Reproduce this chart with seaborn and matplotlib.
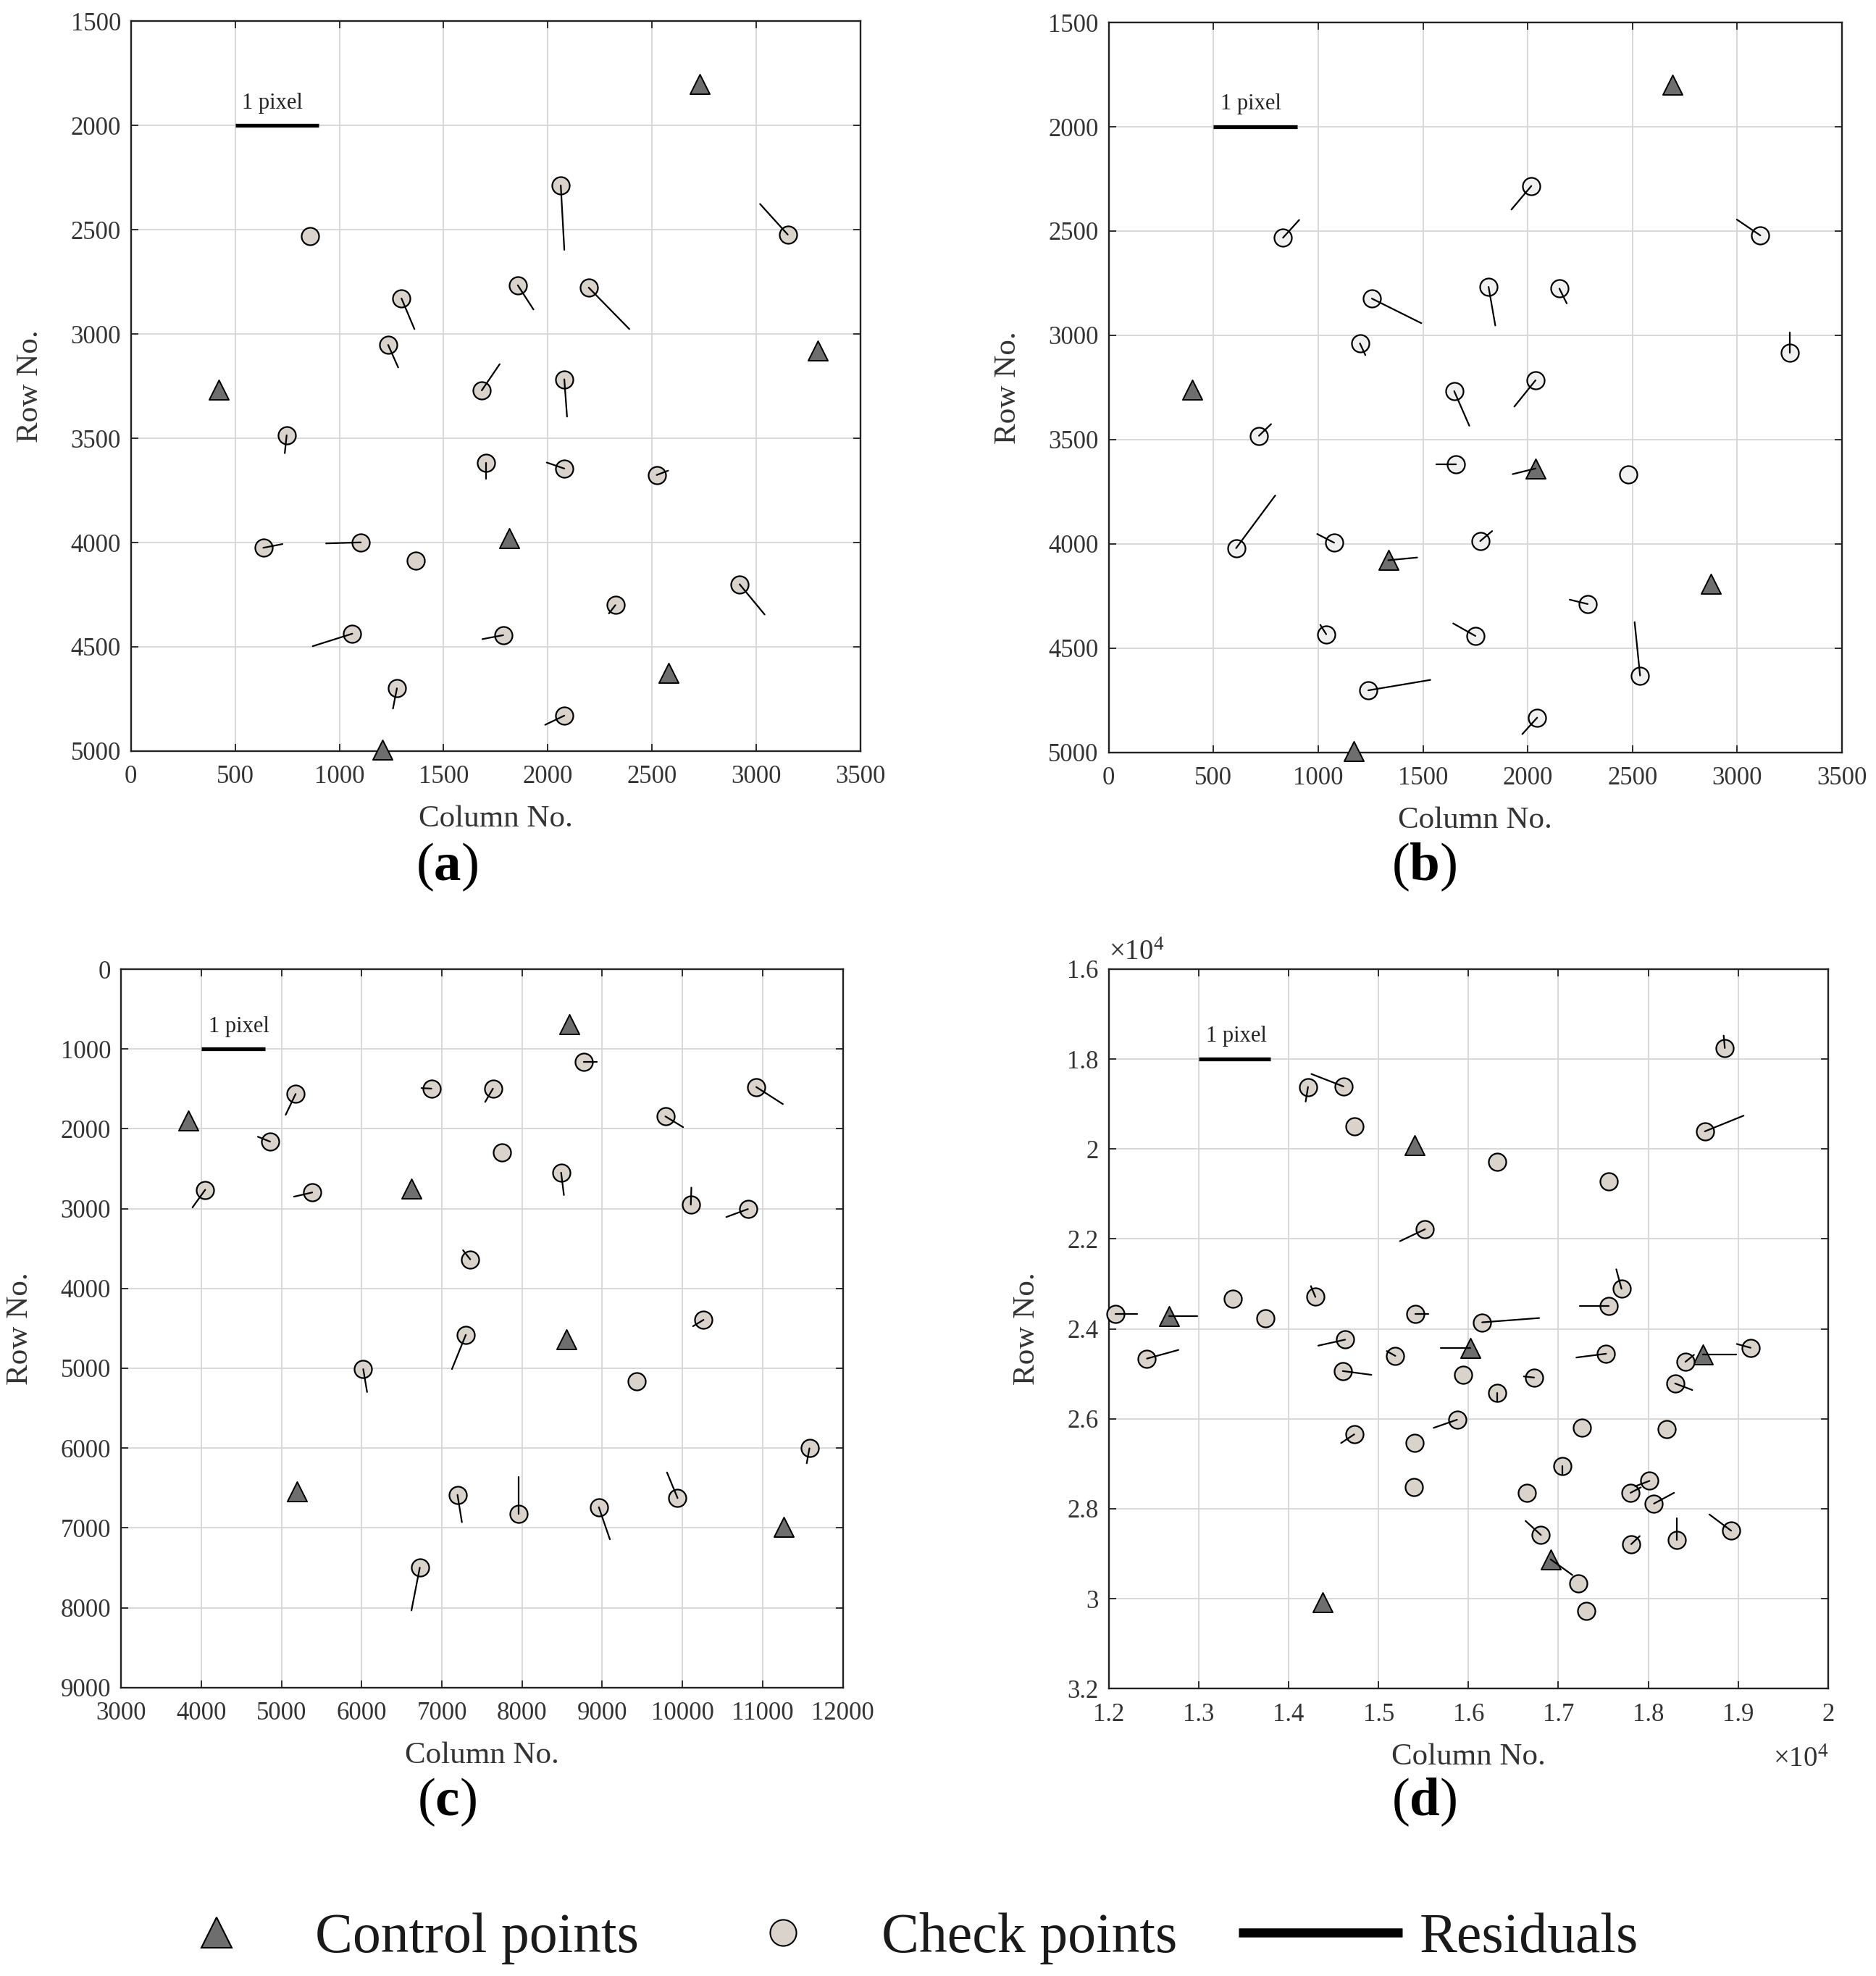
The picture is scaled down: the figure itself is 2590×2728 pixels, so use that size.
import numpy as np
import matplotlib
matplotlib.use("Agg")
import matplotlib.pyplot as plt
import seaborn as sns
from matplotlib.lines import Line2D
from matplotlib.ticker import FuncFormatter

# ---------------- data ----------------
# (a)
A_CTRL_COL = [2730, 3295, 420, 1815, 2580, 1205]
A_CTRL_ROW = [1800, 3080, 3265, 3980, 4625, 4995]
A_CHK_COL = [860, 2062, 3151, 1856, 2196, 1298, 1234, 1683, 2079, 747, 1705,
             2079, 2522, 635, 1103, 1368, 2920, 2324, 1062, 1786, 1276, 2079]
A_CHK_ROW = [2530, 2287, 2523, 2766, 2777, 2829, 3052, 3270, 3217, 3485, 3618,
             3645, 3676, 4025, 3999, 4088, 4200, 4300, 4437, 4444, 4699, 4830]
A_CHK_TIP_COL = [860, 2079, 3018, 1931, 2391, 1360, 1282, 1769, 2092, 738, 1705,
                 1995, 2577, 727, 936, 1368, 3040, 2293, 872, 1686, 1257, 1987]
A_CHK_TIP_ROW = [2530, 2596, 2376, 2882, 2976, 2976, 3160, 3144, 3396, 3571, 3695,
                 3616, 3655, 4007, 4004, 4088, 4345, 4340, 4497, 4463, 4796, 4874]

# (b)
B_CTRL_COL = [2690, 400, 2037, 1334, 2874, 1168]
B_CTRL_ROW = [1800, 3260, 3639, 4079, 4192, 4995]
B_CTRL_TIP_COL = [2690, 400, 1928, 1472, 2874, 1168]
B_CTRL_TIP_ROW = [1800, 3260, 3666, 4066, 4192, 4995]
B_CHK_COL = [2017, 832, 3110, 1256, 1813, 2151, 1199, 3250, 2037, 1649, 717,
             1658, 2481, 608, 1076, 1773, 2286, 1038, 1750, 2536, 1239, 2045]
B_CHK_ROW = [2284, 2532, 2521, 2824, 2768, 2776, 3039, 3084, 3216, 3268, 3482,
             3618, 3666, 4021, 3995, 3987, 4289, 4434, 4442, 4632, 4703, 4834]
B_CHK_TIP_COL = [1922, 909, 2998, 1492, 1845, 2186, 1225, 3250, 1936, 1721, 775,
                 1563, 2481, 795, 995, 1830, 2200, 1010, 1644, 2510, 1535, 1974]
B_CHK_TIP_ROW = [2397, 2447, 2445, 2942, 2953, 2847, 3095, 2987, 3342, 3434, 3426,
                 3618, 3666, 3768, 3953, 3939, 4268, 4389, 4382, 4376, 4653, 4913]

# (c)
C_CTRL_COL = [8590, 3840, 6620, 8555, 5190, 11260]
C_CTRL_ROW = [685, 1900, 2750, 4640, 6540, 6990]
C_CHK_COL = [8770, 5177, 6870, 7637, 10920, 9787, 4859, 7748, 8487, 4050, 5384, 10104,
             10816, 7354, 10263, 7299, 6020, 9427, 11583, 7195, 7955, 8957, 9939, 6725]
C_CHK_ROW = [1160, 1563, 1496, 1496, 1476, 1844, 2160, 2294, 2549, 2763, 2797, 2951,
             3005, 3635, 4393, 4581, 5010, 5164, 6003, 6586, 6821, 6740, 6626, 7498]
C_CHK_TIP_COL = [8936, 5053, 6746, 7540, 11252, 10008, 4707, 7748, 8522, 3891, 5156, 10111,
                 10547, 7264, 10132, 7126, 6068, 9427, 11549, 7250, 7955, 9095, 9807, 6621]
C_CHK_TIP_ROW = [1160, 1824, 1489, 1663, 1690, 1979, 2099, 2294, 2830, 2985, 2850, 2736,
                 3105, 3521, 4473, 5010, 5298, 5164, 6190, 6928, 6358, 7143, 6305, 8035]

# (d)
D_CTRL_COL = [15403, 12673, 16025, 18603, 16914, 14381]
D_CTRL_ROW = [19910, 23711, 24420, 24577, 29124, 30075]
D_CTRL_TIP_COL = [15403, 12984, 15695, 18978, 17156, 14381]
D_CTRL_TIP_ROW = [19910, 23711, 24420, 24577, 29473, 30075]
D_CHK_COL = [18851, 14216, 14610, 14730, 18629, 16317, 17556, 15517, 14298, 13378, 17702,
             12076, 13746, 15410, 17556, 16152, 14629, 19137, 12425, 15187, 17530, 18413,
             14603, 15937, 16730, 18298, 16317, 15873, 17263, 18203, 14730, 15403, 17041,
             18013, 17803, 16648, 18063, 15390, 16806, 18921, 18317, 17810, 17219, 17314]
D_CHK_ROW = [17756, 18622, 18610, 19500, 19609, 20282, 20727, 21786, 23290, 23338, 23109,
             23675, 23771, 23675, 23494, 23855, 24240, 24420, 24661, 24601, 24553, 24733,
             24938, 25022, 25082, 25214, 25419, 26020, 26201, 26237, 26345, 26538, 27043,
             27380, 27645, 27645, 27885, 27524, 28583, 28487, 28691, 28787, 29665, 30267]
D_CHK_TIP_COL = [18838, 14190, 14254, 14730, 19060, 16317, 17556, 15238, 14248, 13378, 17644,
                 12317, 13746, 15556, 17238, 16787, 14330, 18984, 12775, 15092, 17200, 18508,
                 14921, 15937, 16616, 18489, 16317, 15613, 17263, 18203, 14584, 15403, 17041,
                 17854, 17917, 16648, 18286, 15390, 16635, 18679, 18317, 17905, 17219, 17314]
D_CHK_TIP_ROW = [17480, 18947, 18334, 19500, 19260, 20282, 20727, 22051, 23049, 23338, 22676,
                 23675, 23771, 23675, 23494, 23759, 24373, 24336, 24469, 24493, 24637, 24577,
                 25022, 25022, 25058, 25359, 25600, 26201, 26201, 26237, 26538, 26538, 27223,
                 27500, 27524, 27645, 27645, 27524, 28270, 28126, 28210, 28607, 29665, 30267]

# "1 pixel" scale bars: start col, end col, row
A_BAR = [500, 900, 2000]
B_BAR = [500, 900, 2000]
C_BAR = [4000, 4800, 1000]
D_BAR = [13000, 13800, 18000]

PANEL_TAGS = ["a", "b", "c", "d"]
LEGEND_LABELS = ["Control points", "Check points", "Residuals"]

CTRL_FILL = "#6E6E6E"
CHK_FILL = "#D9D3CC"
CHK_FILL_B = "#F0F0F0"
TEXT_GREY = "#333333"

sns.set_style("ticks")
plt.rcParams["font.family"] = ["Liberation Serif", "DejaVu Sans"]
plt.rcParams["mathtext.fontset"] = "custom"
plt.rcParams["mathtext.rm"] = "Liberation Serif"
plt.rcParams["mathtext.bf"] = "Liberation Serif:bold"
plt.rcParams["mathtext.it"] = "Liberation Serif:italic"


def draw_panel(ax, ctrl, chk, chk_fill, ctrl_tip=None, xlim=None, ylim=None,
               xstep=None, ystep=None, bar=None, scale=None):
    ccol, crow = ctrl
    kcol, krow, kcol_tip, krow_tip = chk

    sns.scatterplot(x=ccol, y=crow, marker="^", s=380, color=CTRL_FILL,
                    edgecolor="black", linewidth=1.4, ax=ax, zorder=3,
                    clip_on=False)
    sns.scatterplot(x=kcol, y=krow, marker="o", s=300, color=chk_fill,
                    edgecolor="black", linewidth=1.6, ax=ax, zorder=3,
                    clip_on=False)

    # residual vectors drawn over the markers
    ax.plot(np.vstack([kcol, kcol_tip]), np.vstack([krow, krow_tip]),
            color="black", lw=1.6, zorder=4, clip_on=False)
    if ctrl_tip is not None:
        ax.plot(np.vstack([ccol, ctrl_tip[0]]), np.vstack([crow, ctrl_tip[1]]),
                color="black", lw=1.6, zorder=4, clip_on=False)

    # scale bar
    ax.plot(bar[:2], [bar[2], bar[2]], color="black", lw=3.8, zorder=4,
            solid_capstyle="butt")
    ax.annotate("1 pixel", xy=(bar[0], bar[2]), xytext=(7, 12),
                textcoords="offset points", ha="left", va="bottom",
                fontsize=22, color="#222222")

    ax.set_xlim(*xlim)
    ax.set_ylim(ylim[1], ylim[0])
    ax.set_xticks(np.arange(xlim[0], xlim[1] + 1, xstep))
    ax.set_yticks(np.arange(ylim[0], ylim[1] + 1, ystep))
    if scale:
        fmt = FuncFormatter(lambda v, p: f"{v / scale:g}")
        ax.xaxis.set_major_formatter(fmt)
        ax.yaxis.set_major_formatter(fmt)

    ax.grid(True, color="#D6D6D6", lw=1.3)
    ax.set_axisbelow(True)
    ax.tick_params(direction="in", top=True, right=True, length=7, width=1.3,
                   labelsize=25, labelcolor=TEXT_GREY, color="#222222")
    ax.tick_params(axis="x", pad=14)
    ax.tick_params(axis="y", pad=10)
    for sp in ax.spines.values():
        sp.set_visible(True)
        sp.set_linewidth(1.7)
        sp.set_color("#222222")
        sp.set_zorder(2.5)
    ax.set_xlabel("Column No.", fontsize=31, color=TEXT_GREY, labelpad=16)
    ax.set_ylabel("Row No.", fontsize=31, color=TEXT_GREY, labelpad=26)


fig = plt.figure(figsize=(25.9, 27.28), dpi=100)

ax_a = fig.add_axes([0.0698, 0.6199, 0.3889, 0.3693])
ax_b = fig.add_axes([0.5910, 0.6193, 0.3909, 0.3693])
ax_c = fig.add_axes([0.0645, 0.1460, 0.3848, 0.3635])
ax_d = fig.add_axes([0.5910, 0.1454, 0.3835, 0.3642])

draw_panel(ax_a, (A_CTRL_COL, A_CTRL_ROW),
           (A_CHK_COL, A_CHK_ROW, A_CHK_TIP_COL, A_CHK_TIP_ROW), CHK_FILL,
           xlim=(0, 3500), ylim=(1500, 5000), xstep=500, ystep=500, bar=A_BAR)
draw_panel(ax_b, (B_CTRL_COL, B_CTRL_ROW),
           (B_CHK_COL, B_CHK_ROW, B_CHK_TIP_COL, B_CHK_TIP_ROW), CHK_FILL_B,
           ctrl_tip=(B_CTRL_TIP_COL, B_CTRL_TIP_ROW),
           xlim=(0, 3500), ylim=(1500, 5000), xstep=500, ystep=500, bar=B_BAR)
draw_panel(ax_c, (C_CTRL_COL, C_CTRL_ROW),
           (C_CHK_COL, C_CHK_ROW, C_CHK_TIP_COL, C_CHK_TIP_ROW), CHK_FILL,
           xlim=(3000, 12000), ylim=(0, 9000), xstep=1000, ystep=1000, bar=C_BAR)
draw_panel(ax_d, (D_CTRL_COL, D_CTRL_ROW),
           (D_CHK_COL, D_CHK_ROW, D_CHK_TIP_COL, D_CHK_TIP_ROW), CHK_FILL,
           ctrl_tip=(D_CTRL_TIP_COL, D_CTRL_TIP_ROW),
           xlim=(12000, 20000), ylim=(16000, 32000), xstep=1000, ystep=2000,
           bar=D_BAR, scale=1e4)

# MATLAB-style exponent labels for (d)
ax_d.text(0.0, 1.004, r"$\times 10^{4}$", transform=ax_d.transAxes, ha="left",
          va="bottom", fontsize=28, color=TEXT_GREY)
ax_d.text(1.0, -0.080, r"$\times 10^{4}$", transform=ax_d.transAxes, ha="right",
          va="top", fontsize=28, color=TEXT_GREY)

# panel tags
tag_pos = [(0.2384, 0.5612), (0.7590, 0.5612), (0.2384, 0.0880), (0.7590, 0.0880)]
for tag, (tx, ty) in zip(PANEL_TAGS, tag_pos):
    fig.text(tx, ty, r"($\mathbf{" + tag + "}$)", ha="center", va="center",
             fontsize=54, color="black")

# legend
handles = [
    Line2D([], [], ls="none", marker="^", ms=30, mfc=CTRL_FILL, mec="black", mew=1.5),
    Line2D([], [], ls="none", marker="o", ms=26, mfc=CHK_FILL, mec="black", mew=1.5),
    Line2D([], [], color="black", lw=9, solid_capstyle="butt"),
]
leg = fig.legend(handles, LEGEND_LABELS, loc="center left",
                 bbox_to_anchor=(0.072, 0.019), ncol=3, frameon=False,
                 fontsize=56, handlelength=2.9, handletextpad=0.3,
                 columnspacing=1.1, borderpad=0, borderaxespad=0)
for t in leg.get_texts():
    t.set_color("#1A1A1A")

fig.savefig("out.png", dpi=100)
